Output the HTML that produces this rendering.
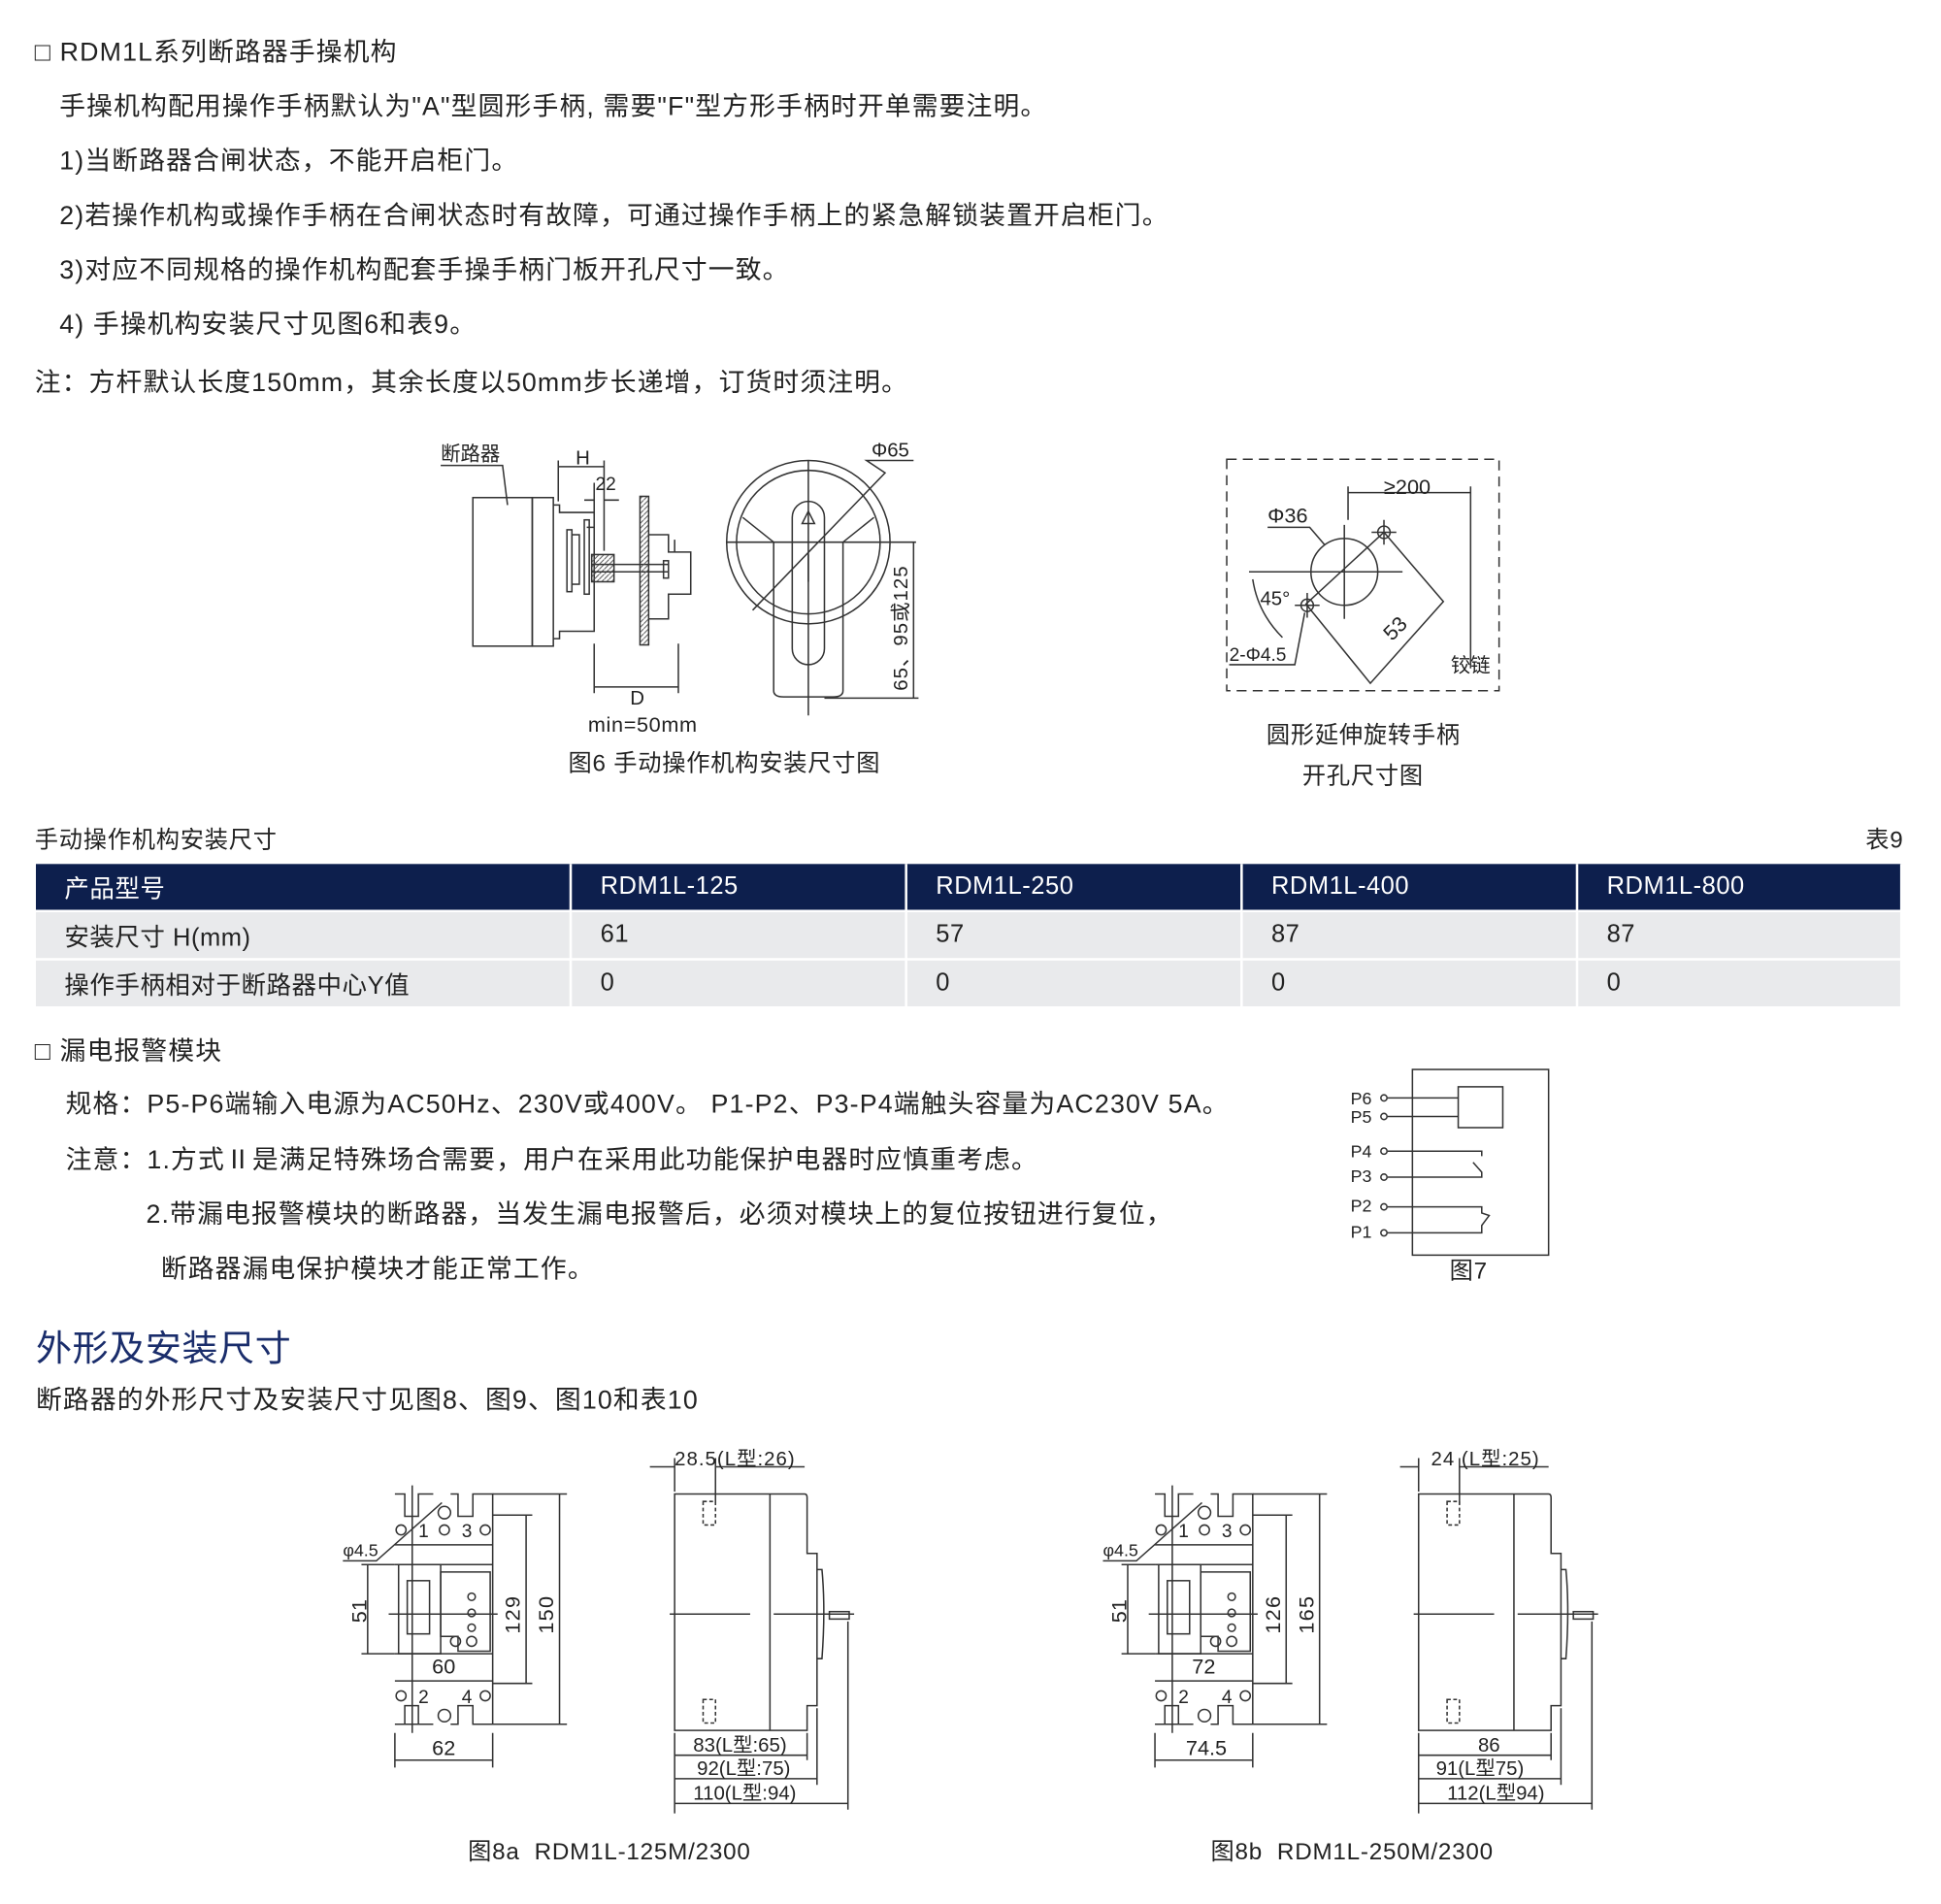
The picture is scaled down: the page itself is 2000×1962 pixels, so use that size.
<!DOCTYPE html>
<html><head><meta charset="utf-8"><style>
html,body{margin:0;padding:0;background:#fff;}
body{width:2000px;height:1962px;overflow:hidden;position:relative;}
#w{position:absolute;left:0;top:0;width:1568px;height:1538px;transform:scale(1.27551);transform-origin:0 0;font-family:"Liberation Sans","Noto Sans CJK SC",sans-serif;color:#222;}
.t{position:absolute;white-space:nowrap;font-size:21px;line-height:24px;letter-spacing:0.9px;}
.s{font-size:19px;letter-spacing:0.6px;}
table{position:absolute;left:29px;top:698px;width:1508px;border-collapse:collapse;font-size:20px;letter-spacing:0.4px;}
td{height:37px;padding:0 0 0 23px;border-right:2px solid #fff;border-bottom:2px solid #fff;}
tr.h td{background:#0d1f4d;color:#fff;}
tr.r td{background:#e9eaec;}
svg{position:absolute;left:0;top:0;}
svg text{font-family:"Liberation Sans","Noto Sans CJK SC",sans-serif;fill:#222;}
</style></head><body><div id="w">
<div class="t" style="left:28px;top:31px">□ RDM1L系列断路器手操机构</div>
<div class="t" style="left:48px;top:75px">手操机构配用操作手柄默认为"A"型圆形手柄, 需要"F"型方形手柄时开单需要注明。</div>
<div class="t" style="left:48px;top:119px">1)当断路器合闸状态，不能开启柜门。</div>
<div class="t" style="left:48px;top:163px">2)若操作机构或操作手柄在合闸状态时有故障，可通过操作手柄上的紧急解锁装置开启柜门。</div>
<div class="t" style="left:48px;top:207px">3)对应不同规格的操作机构配套手操手柄门板开孔尺寸一致。</div>
<div class="t" style="left:48px;top:251px">4) 手操机构安装尺寸见图6和表9。</div>
<div class="t" style="left:28px;top:298px">注：方杆默认长度150mm，其余长度以50mm步长递增，订货时须注明。</div>
<div class="t s" style="left:459px;top:606px">图6 手动操作机构安装尺寸图</div>
<div class="t s" style="left:1023px;top:583px">圆形延伸旋转手柄</div>
<div class="t s" style="left:1052px;top:616px">开孔尺寸图</div>
<div class="t s" style="left:28px;top:668px">手动操作机构安装尺寸</div>
<div class="t s" style="left:1507px;top:668px">表9</div>
<table>
<tr class="h"><td style="width:408px">产品型号</td><td style="width:246px">RDM1L-125</td><td style="width:246px">RDM1L-250</td><td style="width:246px">RDM1L-400</td><td>RDM1L-800</td></tr>
<tr class="r"><td>安装尺寸 H(mm)</td><td>61</td><td>57</td><td>87</td><td>87</td></tr>
<tr class="r"><td>操作手柄相对于断路器中心Y值</td><td>0</td><td>0</td><td>0</td><td>0</td></tr>
</table>
<div class="t" style="left:28px;top:838px">□ 漏电报警模块</div>
<div class="t" style="left:53px;top:881px">规格：P5-P6端输入电源为AC50Hz、230V或400V。 P1-P2、P3-P4端触头容量为AC230V 5A。</div>
<div class="t" style="left:53px;top:926px">注意：1.方式Ⅱ是满足特殊场合需要，用户在采用此功能保护电器时应慎重考虑。</div>
<div class="t" style="left:118px;top:970px">2.带漏电报警模块的断路器，当发生漏电报警后，必须对模块上的复位按钮进行复位，</div>
<div class="t" style="left:130px;top:1014px">断路器漏电保护模块才能正常工作。</div>
<div class="t s" style="left:1171px;top:1016px">图7</div>
<div class="t" style="left:29px;top:1072px;font-size:29px;line-height:36px;color:#1a2d6b;letter-spacing:0.5px">外形及安装尺寸</div>
<div class="t" style="left:29px;top:1120px">断路器的外形尺寸及安装尺寸见图8、图9、图10和表10</div>
<div class="t s" style="left:378px;top:1485px">图8a&nbsp; RDM1L-125M/2300</div>
<div class="t s" style="left:978px;top:1485px">图8b&nbsp; RDM1L-250M/2300</div>

<svg width="1568" height="1538" viewBox="0 0 1568 1538" fill="none" stroke="#333" stroke-width="1.2">
<defs><pattern id="hat" width="4" height="4" patternUnits="userSpaceOnUse"><path d="M0 4L4 0" stroke="#555" stroke-width="0.8"/></pattern></defs>
<g>
<text x="356" y="372" font-size="16" stroke="none">断路器</text>
<path d="M356 376H406L410 408"/>
<rect x="382" y="402" width="48" height="120"/><rect x="430" y="402" width="17" height="120"/>
<path d="M447 408H452V414H480V426H474"/><path d="M447 516H452V510H480V420"/>
<rect x="458" y="428" width="4" height="50"/><rect x="462" y="432" width="6" height="40"/><rect x="472" y="420" width="4" height="60"/>
<rect x="478" y="448" width="18" height="22" fill="url(#hat)"/>
<path d="M478 456H540M478 462H540"/>
<rect x="517" y="401" width="7" height="120" fill="url(#hat)"/>
<path d="M524 432H540V446H558V480H540V500H524"/>
<path d="M540 432V446M545 436V446"/>
<rect x="536" y="453" width="4" height="14"/>
<text x="465" y="375" font-size="16" stroke="none">H</text>
<path d="M451 377H488M451 372V405M488 372V445"/>
<text x="481" y="396" font-size="15" stroke="none">22</text>
<path d="M472 404H480M488 404H500M480 390V416"/>
<path d="M480 520V560M548 520V560M480 555H548"/>
<text x="509" y="569" font-size="16" stroke="none">D</text>
<text x="475" y="591" font-size="17" stroke="none" letter-spacing="0.5">min=50mm</text>
<circle cx="653" cy="438" r="66"/><circle cx="653" cy="438" r="58"/>
<path d="M587 438H740M653 372V578"/>
<rect x="640" y="405" width="26" height="132" rx="13"/>
<path d="M625 438V558Q625 563 633 563H673Q681 563 681 558V438"/>
<path d="M600 418L625 438M706 418L681 438"/>
<path d="M608 493L715 382L700 372H738"/>
<path d="M653 413L648 423H658Z"/>
<path d="M653 448V470"/>
<path d="M666 564H742M738 438V564"/>
<text x="733" y="558" font-size="16" stroke="none" letter-spacing="0.8" transform="rotate(-90 733 558)">65、95或125</text>
<text x="704" y="369" font-size="16" stroke="none">Φ65</text>
</g>
<g>
<rect x="991" y="371" width="220" height="187" stroke-dasharray="8 5"/>
<circle cx="1086" cy="462" r="27"/>
<path d="M1009 462H1133M1086 424V500"/>
<path d="M1118 430L1166 486L1107 552L1055 488Z"/>
<circle cx="1118" cy="430" r="5"/><path d="M1108 430H1128M1118 420V440"/>
<circle cx="1056" cy="489" r="5"/><path d="M1046 489H1066M1056 479V499"/>
<path d="M1089 398H1188M1089 393V420M1188 393V540"/>
<text x="1118" y="399" font-size="17" stroke="none">≥200</text>
<text x="1024" y="422" font-size="17" stroke="none">Φ36</text>
<path d="M1024 426H1058L1070 440"/>
<text x="1018" y="489" font-size="16" stroke="none">45°</text>
<path d="M1012 468Q1016 495 1036 515"/>
<text x="993" y="534" font-size="15" stroke="none">2-Φ4.5</text>
<path d="M993 537H1046L1054 495"/>
<text x="1116" y="512" font-size="17" stroke="none" transform="rotate(-45 1128 505)">53</text>
<text x="1172" y="543" font-size="16" stroke="none">铰链</text>
</g>
<g>
<rect x="1141" y="864" width="110" height="150"/>
<rect x="1178" y="878" width="36" height="33"/>
<g font-size="14" stroke="none"><text x="1091" y="892">P6</text><text x="1091" y="907">P5</text><text x="1091" y="935">P4</text><text x="1091" y="955">P3</text><text x="1091" y="979">P2</text><text x="1091" y="1000">P1</text></g>
<g><circle cx="1118" cy="887" r="2.5"/><circle cx="1118" cy="902" r="2.5"/><circle cx="1118" cy="930" r="2.5"/><circle cx="1118" cy="951" r="2.5"/><circle cx="1118" cy="975" r="2.5"/><circle cx="1118" cy="996" r="2.5"/></g>
<path d="M1121 887H1178M1121 902H1178M1121 930H1197V934M1190 939L1197 947V951H1121M1121 975H1197V980L1203 982L1197 990V996H1121"/>
</g>
<g>
<path d="M319 1207H327V1225H338V1207H350M364 1207H370V1225H382V1207H398V1393H382V1378H370V1393H364M350 1393H338V1378H327V1393H319Z"/>
<path d="M319 1248H398M319 1264H398M319 1336H398M319 1358H398"/>
<rect x="322" y="1264" width="34" height="72"/><rect x="329" y="1277" width="18" height="43"/>
<path d="M356 1270H396V1334H370V1322H356Z"/>
<g><circle cx="359" cy="1222" r="5"/><circle cx="324" cy="1236" r="4"/><circle cx="359" cy="1236" r="4"/><circle cx="392" cy="1236" r="4"/><circle cx="324" cy="1370" r="4"/><circle cx="392" cy="1370" r="4"/><circle cx="359" cy="1386" r="5"/><circle cx="381" cy="1290" r="3"/><circle cx="381" cy="1303" r="3"/><circle cx="381" cy="1315" r="3"/><circle cx="368" cy="1326" r="4"/><circle cx="381" cy="1326" r="4"/></g>
<path d="M314 1304H402M333 1200V1400"/>
<g font-size="15" stroke="none"><text x="338" y="1242">1</text><text x="373" y="1242">3</text><text x="338" y="1376">2</text><text x="373" y="1376">4</text></g>
<text x="349" y="1352" font-size="17" stroke="none">60</text>
<text x="349" y="1418" font-size="17" stroke="none">62</text>
<path d="M319 1400V1428M398 1400V1428M319 1422H398"/>
<path d="M292 1264H319M292 1336H319M297 1264V1336"/>
<text x="296" y="1311" font-size="17" stroke="none" transform="rotate(-90 296 1311)">51</text>
<path d="M398 1224H430M398 1360H430M425 1224V1360M398 1207H458M398 1393H458M452 1207V1393"/>
<text x="420" y="1320" font-size="17" stroke="none" letter-spacing="1" transform="rotate(-90 420 1320)">129</text>
<text x="447" y="1320" font-size="17" stroke="none" letter-spacing="1" transform="rotate(-90 447 1320)">150</text>
<text x="277" y="1257" font-size="14" stroke="none">φ4.5</text>
<path d="M277 1261H304L357 1214"/>
<path d="M545 1207H650Q652 1207 652 1210V1255H660V1378H652V1398H545Z"/>
<path d="M622 1207V1398M660 1268H664Q667 1300 664 1340H660"/>
<rect x="568" y="1213" width="10" height="19" stroke-dasharray="3 2"/><rect x="568" y="1373" width="10" height="19" stroke-dasharray="3 2"/>
<path d="M541 1304H606M625 1304H690"/>
<rect x="670" y="1302" width="16" height="6"/>
<path d="M545 1178V1205M578 1178V1215M525 1185H545M578 1185H650"/>
<text x="545" y="1184" font-size="16" stroke="none" letter-spacing="0.8">28.5(L型:26)</text>
<path d="M545 1400V1465M652 1400V1422M660 1380V1442M685 1310V1462M545 1418H652M545 1437H660M545 1457H685"/>
<text x="560" y="1415" font-size="16" stroke="none">83(L型:65)</text>
<text x="563" y="1434" font-size="16" stroke="none">92(L型:75)</text>
<text x="560" y="1454" font-size="16" stroke="none">110(L型:94)</text>
</g>
<g transform="translate(614,0)">
<path d="M319 1207H327V1225H338V1207H350M364 1207H370V1225H382V1207H398V1393H382V1378H370V1393H364M350 1393H338V1378H327V1393H319Z"/>
<path d="M319 1248H398M319 1264H398M319 1336H398M319 1358H398"/>
<rect x="322" y="1264" width="34" height="72"/><rect x="329" y="1277" width="18" height="43"/>
<path d="M356 1270H396V1334H370V1322H356Z"/>
<g><circle cx="359" cy="1222" r="5"/><circle cx="324" cy="1236" r="4"/><circle cx="359" cy="1236" r="4"/><circle cx="392" cy="1236" r="4"/><circle cx="324" cy="1370" r="4"/><circle cx="392" cy="1370" r="4"/><circle cx="359" cy="1386" r="5"/><circle cx="381" cy="1290" r="3"/><circle cx="381" cy="1303" r="3"/><circle cx="381" cy="1315" r="3"/><circle cx="368" cy="1326" r="4"/><circle cx="381" cy="1326" r="4"/></g>
<path d="M314 1304H402M333 1200V1400"/>
<g font-size="15" stroke="none"><text x="338" y="1242">1</text><text x="373" y="1242">3</text><text x="338" y="1376">2</text><text x="373" y="1376">4</text></g>
<text x="349" y="1352" font-size="17" stroke="none">72</text>
<text x="344" y="1418" font-size="17" stroke="none">74.5</text>
<path d="M319 1400V1428M398 1400V1428M319 1422H398"/>
<path d="M292 1264H319M292 1336H319M297 1264V1336"/>
<text x="296" y="1311" font-size="17" stroke="none" transform="rotate(-90 296 1311)">51</text>
<path d="M398 1224H430M398 1360H430M425 1224V1360M398 1207H458M398 1393H458M452 1207V1393"/>
<text x="420" y="1320" font-size="17" stroke="none" letter-spacing="1" transform="rotate(-90 420 1320)">126</text>
<text x="447" y="1320" font-size="17" stroke="none" letter-spacing="1" transform="rotate(-90 447 1320)">165</text>
<text x="277" y="1257" font-size="14" stroke="none">φ4.5</text>
<path d="M277 1261H304L357 1214"/>
</g>
<g transform="translate(601,0)">
<path d="M545 1207H650Q652 1207 652 1210V1255H660V1378H652V1398H545Z"/>
<path d="M622 1207V1398M660 1268H664Q667 1300 664 1340H660"/>
<rect x="568" y="1213" width="10" height="19" stroke-dasharray="3 2"/><rect x="568" y="1373" width="10" height="19" stroke-dasharray="3 2"/>
<path d="M541 1304H606M625 1304H690"/>
<rect x="670" y="1302" width="16" height="6"/>
<path d="M545 1178V1205M578 1178V1215M530 1185H545M578 1185H650"/>
<text x="555" y="1184" font-size="16" stroke="none" letter-spacing="0.8">24 (L型:25)</text>
<path d="M545 1400V1465M652 1400V1422M660 1380V1442M685 1310V1462M545 1418H652M545 1437H660M545 1457H685"/>
<text x="593" y="1415" font-size="16" stroke="none">86</text>
<text x="559" y="1434" font-size="16" stroke="none">91(L型75)</text>
<text x="568" y="1454" font-size="16" stroke="none">112(L型94)</text>
</g>
</svg>
</div></body></html>
